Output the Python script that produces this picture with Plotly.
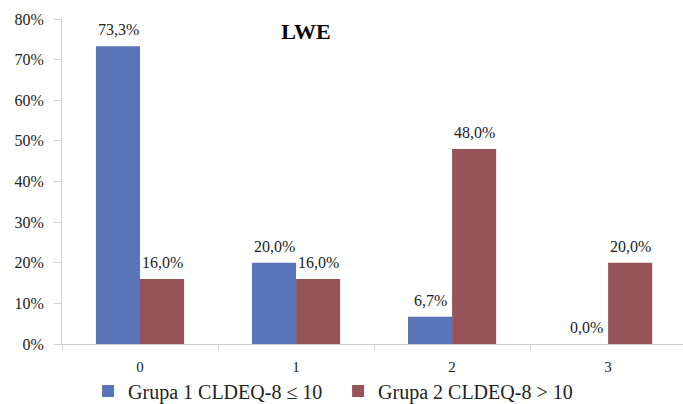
import plotly.graph_objects as go

categories = ["0", "1", "2", "3"]
grupa1 = [0.733, 0.200, 0.067, 0.000]
grupa2 = [0.160, 0.160, 0.480, 0.200]
series_names = ["Grupa 1 CLDEQ-8 ≤ 10", "Grupa 2 CLDEQ-8 > 10"]
colors = ["#5A74B8", "#97535A"]
label_xshift = [-22, 22]

FONT = "Liberation Serif"

fig = go.Figure()
for name, vals, col, dx in zip(series_names, [grupa1, grupa2], colors, label_xshift):
    fig.add_trace(go.Bar(
        x=categories, y=vals, name=name,
        marker=dict(color=col, line=dict(width=0)),
    ))
    # value labels sitting a little above each bar
    for cat, v in zip(categories, vals):
        fig.add_annotation(
            x=cat, y=v, xref="x", yref="y", text=f"{v * 100:.1f}%".replace(".", ","),
            showarrow=False, xanchor="center", yanchor="bottom",
            xshift=dx, yshift=6,
            font=dict(family=FONT, size=16, color="#222222"),
        )

fig.update_layout(
    width=683, height=404,
    margin=dict(l=62, r=0, t=19, b=60, autoexpand=False),
    paper_bgcolor="white", plot_bgcolor="white",
    barmode="group", bargap=0.435, bargroupgap=0,
    font=dict(family=FONT, size=16, color="#222222"),
    title=dict(text="<b>LWE</b>", x=306 / 683, xanchor="center",
               y=1 - 31 / 404, yanchor="middle", xref="container", yref="container",
               font=dict(family=FONT, size=22, color="#000000")),
    showlegend=True,
    legend=dict(orientation="h", x=0.042, xanchor="left",
                y=1 - 391 / 404, yanchor="middle", yref="container",
                font=dict(family=FONT, size=20, color="#222222"),
                entrywidth=205, entrywidthmode="pixels", traceorder="normal"),
)
fig.update_xaxes(
    type="category", range=[-0.5, 3.48], automargin=False,
    showline=True, linecolor="#D0D0D0", linewidth=1,
    ticks="outside", tickson="boundaries", ticklen=5, tickcolor="#D0D0D0",
    ticklabelstandoff=9,
    showgrid=False, tickfont=dict(family=FONT, size=15, color="#222222"),
)
fig.update_yaxes(
    range=[0, 0.8], dtick=0.1, tickformat=".0%", automargin=False,
    showline=True, linecolor="#D0D0D0", linewidth=1,
    ticks="outside", ticklen=7, tickcolor="#D0D0D0",
    ticklabelstandoff=7,
    showgrid=False, zeroline=False,
    tickfont=dict(family=FONT, size=16, color="#222222"),
)

fig.write_html("out.html")
